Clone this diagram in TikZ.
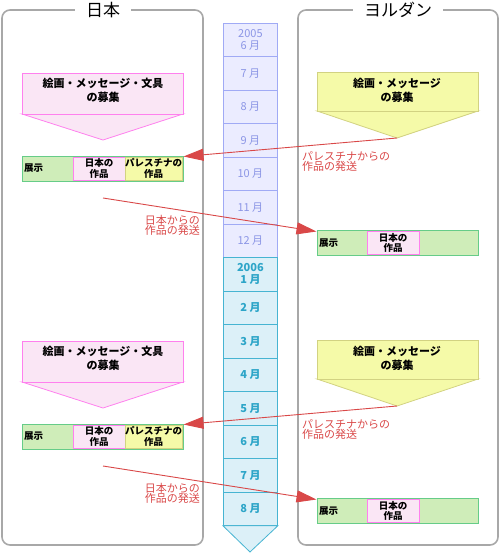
\documentclass[tikz,border=0pt]{standalone}
\usepackage{fontspec}
\setmainfont{Noto Sans CJK JP}
\usetikzlibrary{arrows.meta,calc}
\definecolor{panelgray}{HTML}{A8A8A8}
\definecolor{cellAline}{HTML}{A0AAF5}
\definecolor{cellAfill}{HTML}{EBECFF}
\definecolor{cellAtext}{HTML}{8C96E6}
\definecolor{cellBline}{HTML}{46B4D2}
\definecolor{cellBfill}{HTML}{DCF0F8}
\definecolor{cellBtext}{HTML}{2DA5C8}
\definecolor{pinkline}{HTML}{FF80EE}
\definecolor{pinkfill}{HTML}{FAE6F5}
\definecolor{yellowline}{HTML}{D2D282}
\definecolor{yellowfill}{HTML}{F5FAA8}
\definecolor{greenline}{HTML}{66CC88}
\definecolor{greenfill}{HTML}{CFEDB9}
\definecolor{sendred}{HTML}{D94848}
\begin{document}
\begin{tikzpicture}[x=1pt,y=-1pt,
  panel/.style={draw=panelgray, line width=1.6pt, rounded corners=8pt},
  paneltitle/.style={fill=white, inner xsep=11pt, inner ysep=2pt, font=\fontsize{17}{17}\selectfont},
  cellA/.style={draw=cellAline, fill=cellAfill, text=cellAtext, minimum width=54pt, minimum height=33.43pt, anchor=north west, align=center, inner sep=0pt, font=\fontsize{11}{11.5}\selectfont, line width=0.8pt},
  cellB/.style={draw=cellBline, fill=cellBfill, text=cellBtext, minimum width=54pt, minimum height=33.5pt, anchor=north west, align=center, inner sep=0pt, font=\bfseries\fontsize{11}{11.5}\selectfont, line width=0.8pt},
  cellBshape/.style={draw=cellBline, fill=cellBfill, line width=0.8pt},
  pinkshape/.style={draw=pinkline, fill=pinkfill, line width=0.8pt},
  yellowshape/.style={draw=yellowline, fill=yellowfill, line width=0.8pt},
  calltext/.style={font=\bfseries\fontsize{11}{14}\selectfont, align=center, inner sep=0pt},
  exbox/.style={draw=greenline, fill=greenfill, line width=1pt, minimum width=161pt, minimum height=25pt, inner sep=0pt},
  exlabel/.style={anchor=west, font=\bfseries\fontsize{9.5}{10}\selectfont, inner sep=0pt},
  inpink/.style={draw=pinkline, fill=pinkfill, line width=0.7pt, minimum width=52pt, minimum height=23pt, inner sep=0pt, align=center, font=\bfseries\fontsize{9.5}{10.5}\selectfont},
  inyellow/.style={draw=yellowline, fill=yellowfill, line width=0.7pt, minimum width=53pt, minimum height=23pt, inner sep=0pt, align=center, font=\bfseries\fontsize{9.5}{10.5}\selectfont},
  sendline/.style={draw=sendred, line width=0.9pt, -{Triangle[length=20pt,width=12pt]}},
  sendlabel/.style={text=sendred, font=\fontsize{11}{10.5}\selectfont, inner sep=0pt},
]
\useasboundingbox (0,0) rectangle (500,554);
% panels
\draw[panel] (2,10) rectangle (203,545);
\node[paneltitle] (jptitle) at (103,10) {日本};
\draw[panel] (298,10) rectangle (498,545);
\node[paneltitle] (jotitle) at (398,10) {ヨルダン};
% timeline
\node[cellA] (c1) at (223,23) {2005\\6 月};
\foreach \k in {2,...,7} {
  \pgfmathtruncatemacro\m{\k+5}
  \node[cellA] (c\k) at (223,{23+(\k-1)*33.43}) {\m\ 月};
}
\node[cellB] (d1) at (223,257) {2006\\1 月};
\foreach \m in {2,...,8} {
  \node[cellB] (d\m) at (223,{257+(\m-1)*33.5}) {\m\ 月};
}
\coordinate (tlend) at (250,552);
\draw[cellBshape] (d8.south west) -- (d8.south east) -- (tlend) -- cycle;
% two yearly rounds
\foreach \s/\o in {1/0,2/268} {
\begin{scope}[shift={(0,\o)}]
  % Japan call
  \coordinate (jptip\s) at (103,140);
  \draw[pinkshape] (22,114) -- (183,114) -- (jptip\s) -- cycle;
  \draw[pinkshape] (22,73) rectangle (183,114);
  \node[calltext] (jpcall\s) at (103,90) {絵画・メッセージ・文具\\の募集};
  % Jordan call
  \coordinate (jotip\s) at (397,138);
  \draw[yellowshape] (317,111) -- (478,111) -- (jotip\s) -- cycle;
  \draw[yellowshape] (317,72) rectangle (478,111);
  \node[calltext] (jocall\s) at (397,90) {絵画・メッセージ\\の募集};
  % Japan exhibition
  \node[exbox] (jpex\s) at (102.5,168.5) {};
  \node[exlabel] (jpexl\s) at (24,168.5) {展示};
  \node[inpink] (jpexa\s) at (99,168.5) {日本の\\作品};
  \node[inyellow] (jpexb\s) at (153.5,168.5) {パレスチナの\\作品};
  % Jordan exhibition
  \node[exbox] (joex\s) at (397.5,243) {};
  \node[exlabel] (joexl\s) at (319,243) {展示};
  \node[inpink] (joexa\s) at (393,243) {日本の\\作品};
  % shipments
  \draw[sendline] (jotip\s) -- ($(jpex\s.north east)+(0,1)$);
  \node[sendlabel, anchor=north west, align=left] (jolab\s) at (302,151) {パレスチナからの\\作品の発送};
  \coordinate (jpstart\s) at (103,198);
  \draw[sendline] (jpstart\s) -- ($(joex\s.north west)+(0,1.5)$);
  \node[sendlabel, anchor=north east, align=right] (jplab\s) at (200,215) {日本からの\\作品の発送};
\end{scope}
}
\end{tikzpicture}
\end{document}
